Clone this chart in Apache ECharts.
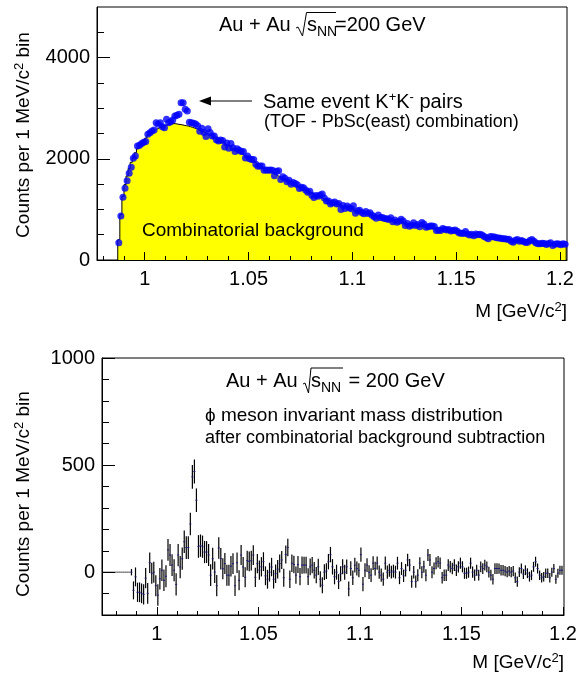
<!DOCTYPE html>
<html>
<head>
<meta charset="utf-8">
<title>phi meson K+K- invariant mass</title>
<script src="https://cdn.jsdelivr.net/npm/echarts@6.0.0/dist/echarts.min.js"></script>
<style>
  html, body { margin: 0; padding: 0; background: #fff; }
  #chart { width: 580px; height: 679px; }
</style>
</head>
<body>
<div id="chart"></div>
<script>
// 1 MeV/c^2 bins
const binWidth = 0.001
const topFirstEdge = 0.987      // first filled bin of the upper histogram
const bottomFirstEdge = 0.973   // first bin of the lower histogram

// upper panel: same event K+K- pairs (blue points)
const sameEvent = [
  342, 870, 1239, 1416, 1568, 1713, 1831, 2009, 2055, 2253,
  2270, 2300, 2325, 2340, 2483, 2516, 2549, 2569, 2714, 2681,
  2714, 2635, 2615, 2780, 2714, 2734, 2767, 2846, 2859, 2879,
  3109, 3109, 2978, 2945, 2721, 2714, 2702, 2686, 2655, 2544,
  2603, 2522, 2440, 2593, 2521, 2451, 2452, 2376, 2353, 2373,
  2360, 2232, 2314, 2207, 2300, 2219, 2146, 2199, 2170, 2146,
  2145, 2016, 2055, 2000, 1987, 1985, 1893, 1852, 1858, 1856,
  1775, 1777, 1774, 1778, 1772, 1666, 1752, 1763, 1593, 1646,
  1618, 1547, 1576, 1498, 1531, 1510, 1489, 1414, 1439, 1426,
  1382, 1339, 1358, 1280, 1233, 1275, 1261, 1287, 1302, 1227,
  1164, 1168, 1108, 1129, 1145, 1105, 1115, 997, 1077, 1020,
  1065, 1035, 1013, 1073, 922, 974, 985, 940, 914, 958,
  921, 935, 882, 857, 827, 891, 839, 838, 819, 814,
  800, 833, 756, 790, 747, 764, 803, 770, 684, 719,
  666, 687, 734, 684, 702, 655, 742, 711, 647, 656,
  674, 674, 660, 585, 590, 583, 623, 609, 594, 604,
  574, 583, 594, 570, 534, 527, 526, 562, 513, 493,
  510, 481, 514, 500, 510, 496, 465, 446, 421, 466,
  460, 455, 442, 437, 428, 418, 418, 408, 409, 373,
  351, 390, 403, 373, 386, 368, 348, 351, 386, 406,
  370, 335, 319, 320, 332, 328, 304, 326, 339, 286,
  310, 321, 317, 300, 322, 312
]

// upper panel: combinatorial background (yellow histogram)
const background = [
  400, 900, 1260, 1490, 1660, 1810, 1930, 2030, 2120, 2200,
  2260, 2310, 2360, 2410, 2460, 2500, 2535, 2565, 2590, 2610,
  2630, 2645, 2660, 2675, 2688, 2695, 2697, 2693, 2685, 2678,
  2672, 2662, 2655, 2648, 2635, 2622, 2608, 2594, 2575, 2558,
  2540, 2522, 2503, 2482, 2458, 2438, 2412, 2390, 2367, 2345,
  2320, 2295, 2270, 2245, 2222, 2195, 2170, 2145, 2116, 2092,
  2065, 2040, 2015, 1990, 1962, 1936, 1910, 1885, 1858, 1832,
  1808, 1788, 1760, 1738, 1715, 1692, 1670, 1648, 1626, 1604,
  1582, 1561, 1540, 1519, 1498, 1477, 1456, 1435, 1414, 1393,
  1370, 1353, 1333, 1313, 1294, 1275, 1256, 1238, 1220, 1202,
  1185, 1168, 1152, 1136, 1120, 1105, 1090, 1075, 1060, 1046,
  1032, 1018, 1004, 991, 978, 965, 952, 940, 928, 916,
  904, 893, 882, 871, 860, 849, 839, 829, 819, 809,
  800, 791, 782, 773, 764, 755, 746, 737, 728, 719,
  710, 701, 692, 684, 677, 669, 662, 654, 647, 639,
  632, 625, 618, 611, 604, 597, 590, 584, 577, 571,
  565, 558, 552, 545, 539, 532, 526, 520, 513, 507,
  501, 495, 489, 483, 477, 471, 465, 460, 454, 449,
  443, 438, 433, 428, 423, 418, 413, 408, 404, 399,
  395, 390, 386, 382, 377, 373, 369, 365, 361, 357,
  353, 349, 345, 341, 337, 333, 330, 326, 322, 319,
  315, 312, 308, 305, 301, 298
]

// lower panel: after background subtraction (first 14 bins are empty)
const subtracted = [
  0, 0, 0, 0, 0, 0, 0, 0, 0, 0, 0, 0, 0, 0,
  0, -85, -22, -94, -94, -99, -104, -28, -99, 44,
  -5, 0, -63, -107, -31, 9, -38, -19, 104, 80,
  33, 9, -57, 80, 24, 63, 142, 115, 115, 225,
  445, 470, 336, 120, 124, 119, 94, 94, 80, -14,
  63, 0, -63, 113, 63, 16, 40, -14, -14, 28,
  40, -63, 44, -38, 80, 24, -24, 54, 50, 54,
  80, -24, 40, 10, 25, 49, -17, -33, 0, 24,
  -33, -7, 14, 40, 57, -26, 82, 115, -33, 42,
  36, -14, 36, -21, 33, 33, 33, -21, 25, 33,
  9, -14, 25, -33, -61, 0, 5, 49, 82, 25,
  -21, 0, -44, -7, 25, 0, 25, -78, 17, -26,
  33, 17, 9, 82, -56, 9, 33, 0, -14, 42,
  17, 42, 0, -14, -33, 42, 0, 9, 0, 5,
  0, 42, -26, 17, -17, 9, 57, 33, -44, 0,
  -44, -14, 42, 0, 25, -14, 80, 57, 0, 17,
  42, 49, 42, -26, -14, -14, 33, 25, 17, 33,
  9, 25, 42, 25, -5, -5, 0, 42, 0, -14,
  9, -14, 25, 17, 33, 25, 0, -14, -33, 17,
  17, 17, 9, 9, 5, 0, 5, 0, 5, -26,
  -44, 0, 17, -9, 9, -5, -21, -14, 25, 49,
  17, -14, -26, -21, -5, -5, -26, 0, 17, -33,
  -5, 9, 9
]

const subtractedErr = [
  0, 0, 0, 0, 0, 0, 0, 0, 0, 0, 0, 0, 0, 0,
  15, 42, 44, 45, 46, 46, 47, 47, 48, 48,
  49, 49, 49, 50, 50, 50, 50, 51, 51, 51,
  51, 51, 52, 52, 52, 52, 52, 53, 53, 53,
  55, 56, 55, 53, 52, 52, 52, 51, 51, 51,
  51, 50, 50, 50, 50, 49, 49, 49, 49, 48,
  48, 48, 48, 47, 47, 47, 47, 46, 46, 46,
  46, 45, 45, 45, 45, 44, 44, 44, 44, 43,
  43, 43, 43, 42, 42, 42, 42, 41, 41, 41,
  41, 40, 40, 40, 40, 39, 39, 39, 39, 38,
  38, 38, 38, 37, 37, 37, 37, 36, 36, 36,
  36, 35, 35, 35, 35, 35, 34, 34, 34, 34,
  34, 33, 33, 33, 33, 33, 32, 32, 32, 32,
  32, 31, 31, 31, 31, 31, 31, 30, 30, 30,
  30, 30, 30, 30, 29, 29, 29, 29, 29, 29,
  29, 28, 28, 28, 28, 28, 28, 28, 28, 28,
  28, 27, 27, 27, 27, 27, 27, 27, 27, 27,
  27, 26, 26, 26, 26, 26, 26, 26, 26, 26,
  26, 25, 25, 25, 25, 25, 25, 25, 25, 25,
  25, 24, 24, 24, 24, 24, 24, 24, 24, 24,
  24, 23, 23, 23, 23, 23, 23, 23, 23, 23,
  23, 22, 22, 22, 22, 22, 22, 21, 21, 21,
  21, 21, 21
]

// axis ticks
const xMajor = [1, 1.05, 1.1, 1.15, 1.2]
const xMinor = [0.98, 0.99, 1.01, 1.02, 1.03, 1.04, 1.06, 1.07, 1.08, 1.09,
  1.11, 1.12, 1.13, 1.14, 1.16, 1.17, 1.18, 1.19]
const topYMajor = [0, 2000, 4000]
const topYMinor = [500, 1000, 1500, 2500, 3000, 3500, 4500]
const botYMajor = [0, 500, 1000]
const botYMinor = [-100, 100, 200, 300, 400, 600, 700, 800, 900]

const FONT = 'Liberation Sans, Arial, Helvetica, sans-serif'

// step outline of the background histogram, bin edges
const bgLine = [[topFirstEdge, 0]]
background.forEach((v, i) => bgLine.push([topFirstEdge + i * binWidth, v]))
bgLine.push([topFirstEdge + background.length * binWidth, background[background.length - 1]])
bgLine.push([topFirstEdge + background.length * binWidth, 0])

const samePoints = sameEvent.map((v, i) => [topFirstEdge + (i + 0.5) * binWidth, v])
const subPoints = subtracted.map((v, i) => [bottomFirstEdge + (i + 0.5) * binWidth, v, subtractedErr[i]])

const plain = v => String(v)

function xAxes(grid, min, max) {
  return [
    {
      gridIndex: grid, type: 'value', min: min, max: max, position: 'bottom', z: 10,
      axisLine: { show: true, onZero: false, lineStyle: { color: '#000', width: 1 } },
      axisTick: { show: true, inside: true, length: 8, customValues: xMajor, lineStyle: { color: '#000' } },
      axisLabel: { show: true, customValues: xMajor, margin: 9, fontSize: 20, color: '#000',
        fontFamily: FONT, formatter: plain },
      splitLine: { show: false }
    },
    {
      gridIndex: grid, type: 'value', min: min, max: max, position: 'bottom', z: 10,
      axisLine: { show: false, onZero: false },
      axisTick: { show: true, inside: true, length: 4, customValues: xMinor, lineStyle: { color: '#000' } },
      axisLabel: { show: false },
      splitLine: { show: false }
    }
  ]
}

function yAxes(grid, min, max, major, minor) {
  return [
    {
      gridIndex: grid, type: 'value', min: min, max: max, position: 'left', z: 10,
      axisLine: { show: true, onZero: false, lineStyle: { color: '#000', width: 1 } },
      axisTick: { show: true, inside: true, length: 13, customValues: major, lineStyle: { color: '#000' } },
      axisLabel: { show: true, customValues: major, margin: 7, fontSize: 20, color: '#000',
        fontFamily: FONT, formatter: plain },
      splitLine: { show: false }
    },
    {
      gridIndex: grid, type: 'value', min: min, max: max, position: 'left', z: 10,
      axisLine: { show: false, onZero: false },
      axisTick: { show: true, inside: true, length: 7, customValues: minor, lineStyle: { color: '#000' } },
      axisLabel: { show: false },
      splitLine: { show: false }
    }
  ]
}

function errorBar(params, api) {
  const x = api.value(0)
  const y = api.value(1)
  const e = api.value(2)
  const l = api.coord([x - binWidth / 2, y])
  const r = api.coord([x + binWidth / 2, y])
  const children = []
  if (e > 0) {
    const t = api.coord([x, y + e])
    const b = api.coord([x, y - e])
    children.push({ type: 'line', shape: { x1: t[0], y1: t[1], x2: b[0], y2: b[1] },
      style: { stroke: '#000', lineWidth: 1.2 } })
    children.push({ type: 'line', shape: { x1: l[0], y1: l[1], x2: r[0], y2: r[1] },
      style: { stroke: '#1a1a7a', lineWidth: 1 } })
  } else {
    children.push({ type: 'line', shape: { x1: l[0], y1: l[1], x2: r[0], y2: r[1] },
      style: { stroke: '#444', lineWidth: 1 } })
  }
  return { type: 'group', children: children }
}

const sup = { fontSize: 13, fontFamily: FONT, padding: [0, 0, 9, 0] }

function label(x, y, text, size, align, rotation) {
  return {
    type: 'text', x: x, y: y, z: 100, rotation: rotation || 0,
    style: { text: text, fontSize: size, fontFamily: FONT, fill: '#000',
      align: align || 'left', verticalAlign: 'middle', rich: { sup: sup } }
  }
}

const chart = echarts.init(document.getElementById('chart'), null, { renderer: 'canvas' })
chart.setOption({
  animation: false,
  backgroundColor: '#fff',
  grid: [
    { left: 97, top: 7, width: 470, height: 253, show: true, borderColor: '#000', borderWidth: 1,
      backgroundColor: 'transparent', containLabel: false, outerBoundsMode: 'none' },
    { left: 102, top: 358, width: 462, height: 257, show: true, borderColor: '#000', borderWidth: 1,
      backgroundColor: 'transparent', containLabel: false, outerBoundsMode: 'none' }
  ],
  xAxis: [].concat(xAxes(0, 0.977, 1.2034), xAxes(1, 0.973, 1.2005)),
  yAxis: [].concat(yAxes(0, 0, 5000, topYMajor, topYMinor), yAxes(1, -200, 1000, botYMajor, botYMinor)),
  series: [
    {
      name: 'Combinatorial background', type: 'line', xAxisIndex: 0, yAxisIndex: 0,
      step: 'end', symbol: 'none', data: bgLine, z: 1,
      lineStyle: { color: '#000', width: 1 },
      areaStyle: { color: '#ffff00', opacity: 1 }
    },
    {
      name: 'Same event K+K- pairs', type: 'scatter', xAxisIndex: 0, yAxisIndex: 0,
      symbol: 'circle', symbolSize: 7, data: samePoints, z: 3,
      itemStyle: { color: '#0000ff' }
    },
    {
      name: 'phi signal', type: 'custom', xAxisIndex: 2, yAxisIndex: 2,
      renderItem: errorBar, data: subPoints, encode: { x: 0, y: 1 }, clip: true, z: 3
    }
  ],
  graphic: [
    // axis titles
    label(24, 135, 'Counts per 1 MeV/c{sup|2} bin', 19, 'center', Math.PI / 2),
    label(24, 494, 'Counts per 1 MeV/c{sup|2} bin', 19, 'center', Math.PI / 2),
    label(567, 312, 'M [GeV/c{sup|2}]', 19, 'right'),
    label(564, 663, 'M [GeV/c{sup|2}]', 19, 'right'),

    // upper panel texts
    label(219, 25, 'Au + Au', 20),
    { type: 'polyline', z: 100, shape: { points: [[296, 28], [298, 27], [302.5, 36], [306.5, 12.5], [336, 12.5]] },
      style: { stroke: '#000', lineWidth: 1, fill: null } },
    label(307, 25, 's', 20),
    label(317, 32, 'NN', 14),
    label(335, 25, '=200 GeV', 20),
    label(263, 102, 'Same event K{sup|+}K{sup|-} pairs', 20),
    label(264, 122, '(TOF - PbSc(east) combination)', 18),
    { type: 'line', z: 100, shape: { x1: 252, y1: 101, x2: 208, y2: 101 }, style: { stroke: '#000', lineWidth: 1 } },
    { type: 'polygon', z: 100, shape: { points: [[199, 101], [211, 96.5], [211, 105.5]] }, style: { fill: '#000' } },
    label(142, 231, 'Combinatorial background', 19),

    // lower panel texts
    label(226, 381, 'Au + Au', 20),
    { type: 'polyline', z: 100, shape: { points: [[303, 384], [305, 383], [308.5, 393], [311, 368], [343, 368]] },
      style: { stroke: '#000', lineWidth: 1, fill: null } },
    label(311, 381, 's', 20),
    label(321, 388, 'NN', 14),
    label(343, 381, ' = 200 GeV', 20),
    label(205, 416, '\u03d5 meson invariant mass distribution', 19),
    label(205, 438, 'after combinatorial background subtraction', 18)
  ]
})
</script>
</body>
</html>
